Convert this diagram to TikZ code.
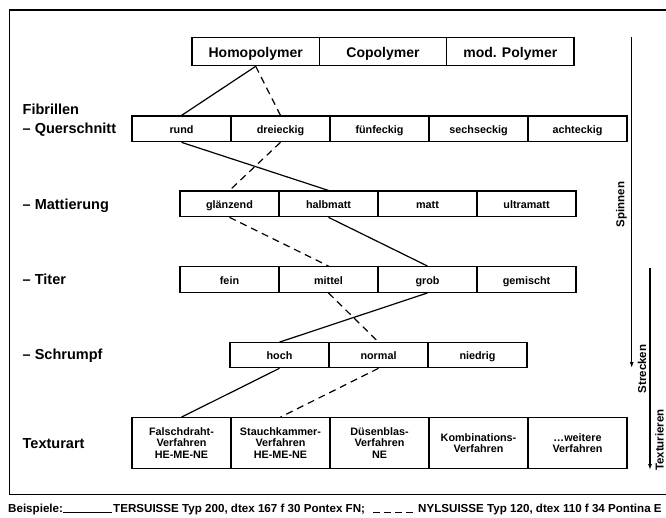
\documentclass[tikz,border=0pt]{standalone}
\usepackage{fontspec}
\setmainfont{Liberation Sans}
\usetikzlibrary{arrows.meta}
\tikzset{
  cell/.style={draw, line width=1.2pt, inner sep=0pt, align=center,
    font=\bfseries\fontsize{10.8}{11.7}\selectfont},
  c5/.style={cell, minimum width=99pt, minimum height=25.7pt,
    text height=9pt, text depth=0pt},
  c3/.style={cell, minimum width=99pt, minimum height=50.6pt},
  ctop/.style={cell, minimum width=127.3pt, minimum height=28.4pt,
    text height=12pt, text depth=0pt,
    font=\bfseries\fontsize{14}{16}\selectfont},
  rowlabel/.style={anchor=base west, inner sep=0pt,
    font=\bfseries\fontsize{14.5}{16}\selectfont},
  sidelabel/.style={rotate=90, inner sep=0pt,
    font=\bfseries\fontsize{11.5}{13}\selectfont},
  legend/.style={anchor=base west, inner sep=0pt,
    font=\bfseries\fontsize{11.6}{13}\selectfont},
  conn/.style={line width=1.2pt},
  dconn/.style={line width=1.2pt, dash pattern=on 7pt off 5pt},
  flow/.style={line width=1.2pt, -{Latex[length=6pt,width=4pt]}},
  frame/.style={line width=1.2pt}
}
\begin{document}
\begin{tikzpicture}[x=1pt,y=-1pt]
\useasboundingbox (0,0) rectangle (666,517);
% frame (open to the right)
\coordinate (f1) at (670,10);
\coordinate (f2) at (9.3,10);
\coordinate (f3) at (9.3,494.5);
\coordinate (f4) at (670,494.5);
\draw[frame] (f1) -- (f2) -- (f3) -- (f4);

% top row
\node[ctop] (homo) at (255.7,51.5) {Homopolymer};
\node[ctop] (copo) at (383.0,51.5) {Copolymer};
\node[ctop] (modp) at (510.3,51.5) {mod. Polymer};

% Querschnitt
\node[c5] (rund) at (181.5,128.9) {rund};
\node[c5] (drei) at (280.5,128.9) {dreieckig};
\node[c5] (fuenf) at (379.5,128.9) {fünfeckig};
\node[c5] (sechs) at (478.5,128.9) {sechseckig};
\node[c5] (acht) at (577.5,128.9) {achteckig};

% Mattierung
\node[c5] (glaenz) at (229.5,203.9) {glänzend};
\node[c5] (halb) at (328.5,203.9) {halbmatt};
\node[c5] (matt) at (427.5,203.9) {matt};
\node[c5] (ultra) at (526.5,203.9) {ultramatt};

% Titer
\node[c5] (fein) at (229.5,279.5) {fein};
\node[c5] (mittel) at (328.5,279.5) {mittel};
\node[c5] (grob) at (427.5,279.5) {grob};
\node[c5] (gem) at (526.5,279.5) {gemischt};

% Schrumpf
\node[c5, minimum height=25pt] (hoch) at (279.5,355.2) {hoch};
\node[c5, minimum height=25pt] (normal) at (378.5,355.2) {normal};
\node[c5, minimum height=25pt] (niedrig) at (477.5,355.2) {niedrig};

% Texturart
\node[c3] (falsch) at (181.5,443) {Falschdraht-\\Verfahren\\HE-ME-NE};
\node[c3] (stauch) at (280.5,443) {Stauchkammer-\\Verfahren\\HE-ME-NE};
\node[c3] (duesen) at (379.5,443) {Düsenblas-\\Verfahren\\NE};
\node[c3] (kombi) at (478.5,443) {Kombinations-\\Verfahren};
\node[c3] (weitere) at (577.5,443) {\dots weitere\\Verfahren};

% row labels
\node[rowlabel] (lfib) at (22.5,114.5) {Fibrillen};
\node[rowlabel] (lquer) at (22.5,133.5) {– Querschnitt};
\node[rowlabel] (lmatt) at (22.5,209) {– Mattierung};
\node[rowlabel] (ltiter) at (22.5,284.5) {– Titer};
\node[rowlabel] (lschr) at (22.5,359) {– Schrumpf};
\node[rowlabel] (ltext) at (22.5,448) {Texturart};

% solid path (TERSUISSE)
\draw[conn] (homo.south) -- (rund.north);
\draw[conn] (rund.south) -- (halb.north);
\draw[conn] (halb.south) -- (grob.north);
\draw[conn] (grob.south) -- (hoch.north);
\draw[conn] (hoch.south) -- (falsch.north);

% dashed path (NYLSUISSE)
\draw[dconn] (homo.south) -- (drei.north);
\draw[dconn] (drei.south) -- (glaenz.north);
\draw[dconn] (glaenz.south) -- (mittel.north);
\draw[dconn] (mittel.south) -- (normal.north);
\draw[dconn] (normal.south) -- (stauch.north);

% process arrows on the right
\coordinate (s1) at (631.7,37.3);
\coordinate (s2) at (631.7,368);
\coordinate (t1) at (650,268);
\coordinate (t2) at (650,470);
\draw[flow] (s1) -- (s2);
\draw[flow] (t1) -- (t2);
\node[sidelabel] (spin) at (621.5,204.5) {Spinnen};
\node[sidelabel] (streck) at (642,369) {Strecken};
\node[sidelabel] (textur) at (659.5,440) {Texturieren};

% legend
\node[legend] (bsp) at (8,512) {Beispiele:};
\coordinate (l1) at (63,512);
\coordinate (l2) at (112,512);
\draw[line width=1pt] (l1) -- (l2);
\node[legend] (ters) at (113,512) {TERSUISSE Typ 200, dtex 167 f 30 Pontex FN;};
\coordinate (d1) at (373,512);
\coordinate (d2) at (413,512);
\draw[line width=1pt, dash pattern=on 7pt off 4pt] (d1) -- (d2);
\node[legend] (nyl) at (418,512) {NYLSUISSE Typ 120, dtex 110 f 34 Pontina E};
\end{tikzpicture}
\end{document}
